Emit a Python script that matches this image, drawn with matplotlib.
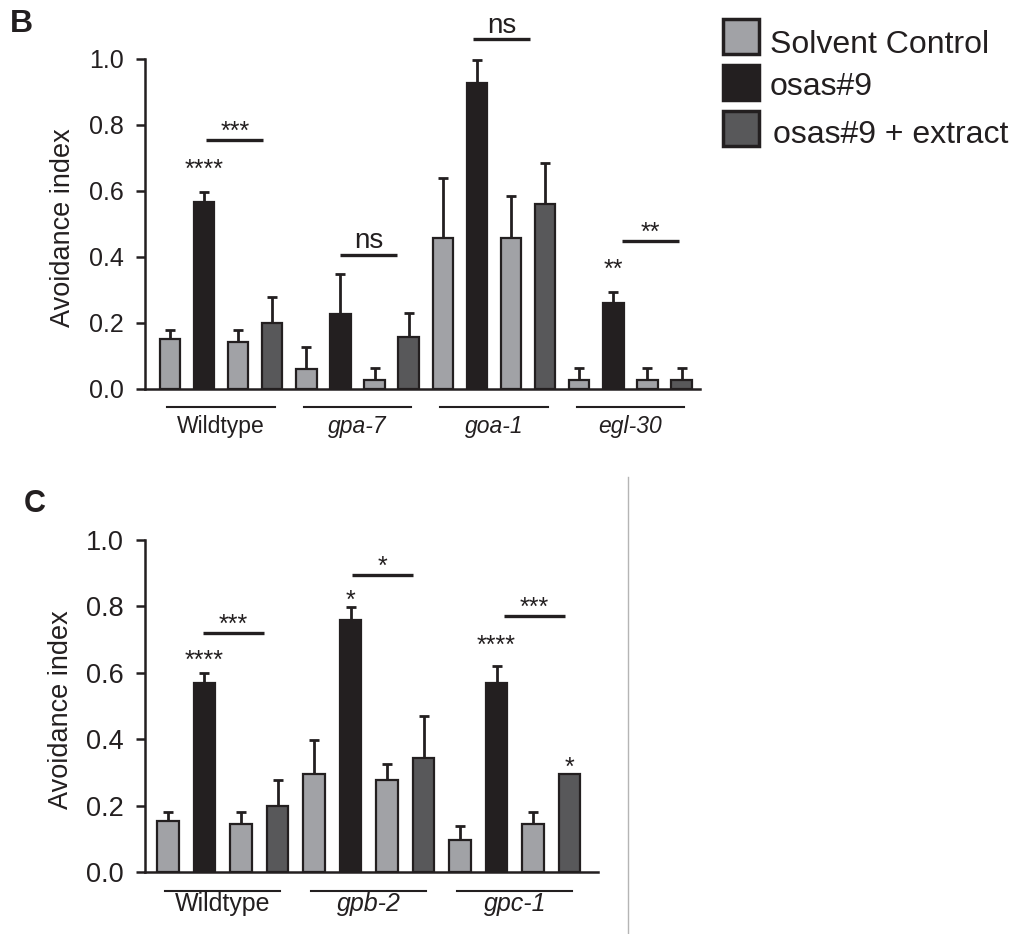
import numpy as np
import matplotlib.pyplot as plt
from matplotlib.patches import Rectangle
from matplotlib.lines import Line2D

plt.rcParams['font.family'] = ['Liberation Sans', 'DejaVu Sans']

W, H = 1018, 934
ink = '#231f20'

# treatments
series = ['Solvent Control', 'osas#9', 'osas#9 + extract']
colors = ['#a1a2a6', '#231f20', '#58585a']
# the four bars of each group: control, osas#9, control, osas#9 + extract
bar_series = [0, 1, 0, 2]

# panel B data (mean, upper error)
b_groups = ['Wildtype', 'gpa-7', 'goa-1', 'egl-30']
b_italic = [False, True, True, True]
b_means = [[0.152, 0.568, 0.143, 0.200],
           [0.060, 0.227, 0.027, 0.158],
           [0.459, 0.926, 0.459, 0.561],
           [0.027, 0.262, 0.027, 0.027]]
b_errs = [[0.028, 0.029, 0.037, 0.078],
          [0.068, 0.123, 0.036, 0.072],
          [0.181, 0.071, 0.126, 0.124],
          [0.036, 0.033, 0.036, 0.036]]
# brackets: group, label, level, shift ; stars: group, bar, label, level
b_brackets = [(0, '***', 0.755, 0.02), (1, 'ns', 0.406, -0.05),
              (2, 'ns', 1.06, -0.16), (3, '**', 0.448, 0.2)]
b_stars = [(0, 1, '****', 0.688), (3, 1, '**', 0.385)]

# panel C data
c_groups = ['Wildtype', 'gpb-2', 'gpc-1']
c_italic = [False, True, True]
c_means = [[0.154, 0.568, 0.145, 0.200],
           [0.295, 0.759, 0.277, 0.344],
           [0.096, 0.569, 0.145, 0.295]]
c_errs = [[0.026, 0.032, 0.035, 0.077],
          [0.103, 0.039, 0.048, 0.127],
          [0.043, 0.051, 0.035, 0.0]]
c_brackets = [(0, '***', 0.72, -0.1), (1, '*', 0.895, -0.0), (2, '***', 0.771, 0.15)]
c_stars = [(0, 1, '****', 0.66), (1, 1, '*', 0.84), (2, 1, '****', 0.705), (2, 3, '*', 0.337)]

yticks = [0.0, 0.2, 0.4, 0.6, 0.8, 1.0]


def panel(ax, groups, italic, means, errs, brackets, stars, tick_fs, lab_fs,
          ul_y, lab_y):
    means = np.array(means)
    errs = np.array(errs)
    pos = np.arange(means.size).reshape(means.shape)
    for k in range(means.shape[1]):
        ax.bar(pos[:, k], means[:, k], width=0.6, color=colors[bar_series[k]],
               edgecolor=ink, linewidth=1.6, zorder=3)
        m = errs[:, k] > 0
        ax.errorbar(pos[m, k], means[m, k],
                    yerr=[np.zeros(m.sum()), errs[m, k]], fmt='none',
                    ecolor=ink, elinewidth=2, capsize=3.6, capthick=2, zorder=2)
    ax.set_ylim(0, 1.0)
    ax.set_yticks(yticks)
    ax.set_yticklabels(['%.1f' % t for t in yticks])
    ax.set_xticks([])
    for s in ['top', 'right']:
        ax.spines[s].set_visible(False)
    for s in ['left', 'bottom']:
        ax.spines[s].set_linewidth(1.8)
        ax.spines[s].set_color(ink)
    ax.tick_params(axis='y', length=6.5, width=1.8, pad=9, labelsize=tick_fs,
                   colors=ink)
    ax.set_ylabel('Avoidance index', fontsize=19.5, color=ink)

    trans = ax.get_xaxis_transform()
    for g, name in enumerate(groups):
        x0, x1 = pos[g, 0] - 0.08, pos[g, -1] + 0.08
        ax.plot([x0, x1], [ul_y, ul_y], transform=trans, color=ink, lw=1.5,
                clip_on=False)
        ax.text((x0 + x1) / 2, lab_y, name, transform=trans, ha='center',
                va='top', fontsize=lab_fs, color=ink,
                style='italic' if italic[g] else 'normal')

    for g, lab, lvl, sh in brackets:
        x0, x1 = pos[g, 1] + 0.05 + sh, pos[g, 3] - 0.28 + sh
        ax.plot([x0, x1], [lvl, lvl], color=ink, lw=2.4, clip_on=False,
                solid_capstyle='butt')
        if lab == 'ns':
            ax.text((x0 + x1) / 2, lvl + 0.02, lab, ha='center', va='baseline',
                    fontsize=20, color=ink, clip_on=False)
        else:
            ax.annotate(lab, ((x0 + x1) / 2, lvl + 0.048), xytext=(0, -0.58 * 18),
                        textcoords='offset points', ha='center', va='baseline',
                        fontsize=18, color=ink, annotation_clip=False)
    for g, b, lab, lvl in stars:
        ax.annotate(lab, (pos[g, b], lvl), xytext=(0, -0.58 * 18),
                    textcoords='offset points', ha='center', va='baseline',
                    fontsize=18, color=ink, annotation_clip=False)


fig = plt.figure(figsize=(W / 100, H / 100), dpi=100)

axb = fig.add_axes([145 / W, 1 - 389 / H, 555 / W, 330 / H])
panel(axb, b_groups, b_italic, b_means, b_errs, b_brackets, b_stars,
      18, 16.5, -0.0545, -0.08)
axb.set_xlim(-0.73, 15.54)
axb.yaxis.set_label_coords(-0.124, 0.49)

axc = fig.add_axes([145 / W, 1 - 872 / H, 453 / W, 332 / H])
panel(axc, c_groups, c_italic, c_means, c_errs, c_brackets, c_stars,
      19.5, 18, -0.057, -0.06)
axc.set_xlim(-0.63, 11.78)
axc.yaxis.set_label_coords(-0.157, 0.49)

# panel letters
fig.text(10 / W, 1 - 32 / H, 'B', fontsize=23, weight='bold', color=ink)
fig.text(24 / W, 1 - 512 / H, 'C', fontsize=22, weight='bold', color=ink)

# legend drawn by hand
box_top = [19, 65, 111]
text_base = [53, 95, 143]
text_x = [770, 770, 773]
for k in range(3):
    fig.patches.append(Rectangle((723 / W, 1 - (box_top[k] + 35) / H), 36 / W, 35 / H,
                                 transform=fig.transFigure, facecolor=colors[k],
                                 edgecolor=ink, linewidth=2.5))
    fig.text(text_x[k] / W, 1 - text_base[k] / H, series[k], fontsize=23,
             color=ink, va='baseline')

# divider
fig.add_artist(Line2D([628 / W, 628 / W], [1 - 477 / H, 0], transform=fig.transFigure,
                      color='#b5b5b5', lw=1))

fig.savefig('out.png', dpi=100)
